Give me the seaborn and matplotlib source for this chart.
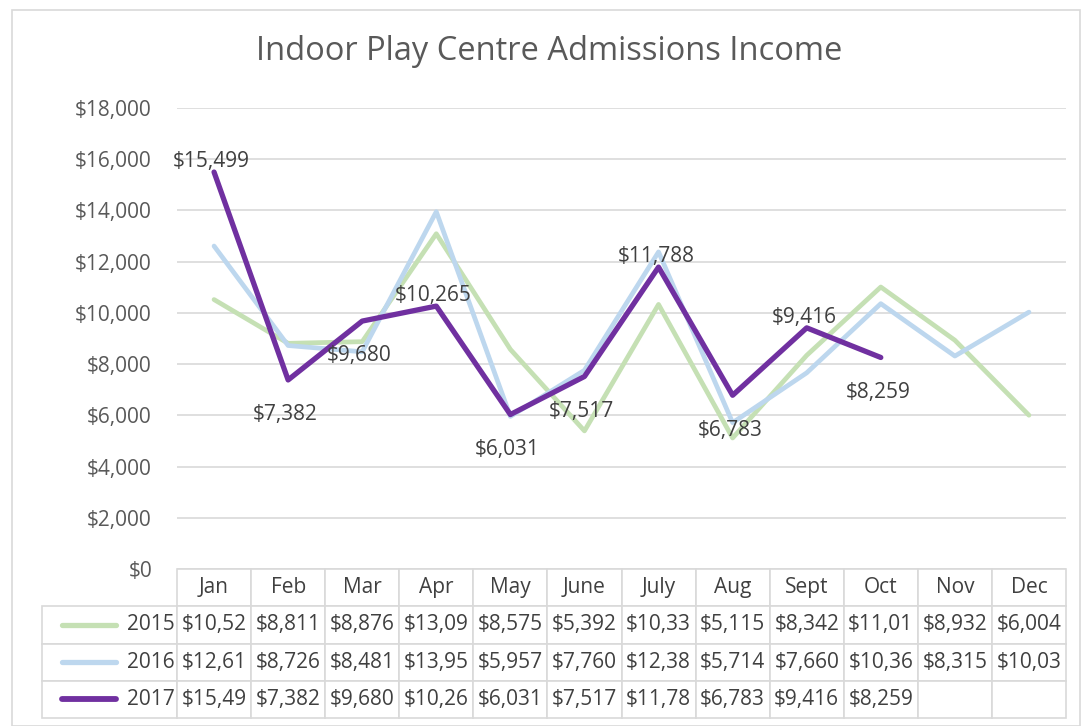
import matplotlib.pyplot as plt
import matplotlib.patches as mpatches
from matplotlib.lines import Line2D
import matplotlib.ticker as mtick
import pandas as pd
import seaborn as sns

months = ['Jan', 'Feb', 'Mar', 'Apr', 'May', 'June', 'July', 'Aug', 'Sept', 'Oct', 'Nov', 'Dec']
years = ['2015', '2016', '2017']
income_2015 = [10520, 8811, 8876, 13090, 8575, 5392, 10330, 5115, 8342, 11010, 8932, 6004]
income_2016 = [12610, 8726, 8481, 13950, 5957, 7760, 12380, 5714, 7660, 10360, 8315, 10030]
income_2017 = [15499, 7382, 9680, 10265, 6031, 7517, 11788, 6783, 9416, 8259]
label_pos_2017 = ['above', 'below', 'below', 'above', 'below', 'below', 'above', 'below', 'above', 'below']

colors = {'2015': '#c5e0b4', '2016': '#bdd7ee', '2017': '#7030a0'}
widths = {'2015': 3.4, '2016': 3.4, '2017': 3.8}

sns.set_theme(style='white')
plt.rcParams['font.family'] = ['Open Sans', 'DejaVu Sans']

rows = []
for yr, vals in zip(years, [income_2015, income_2016, income_2017]):
    for i, v in enumerate(vals):
        rows.append({'Year': yr, 'm': i, 'Income': v})
df = pd.DataFrame(rows)

W, H = 1084, 726
fig = plt.figure(figsize=(W / 100, H / 100), dpi=100)
fig.patches.append(mpatches.Rectangle((12 / W, 0), (1080 - 12) / W, 1 - 10 / H,
                                      transform=fig.transFigure, fill=False,
                                      edgecolor='#d9d9d9', lw=1.2))
fig.text(549 / W, 1 - 52 / H, 'Indoor Play Centre Admissions Income', fontsize=23.5,
         color='#595959', ha='center', va='center')

ax = fig.add_axes([177 / W, 1 - 569 / H, (1066 - 177) / W, (569 - 108) / H])
for yr in years:
    sns.lineplot(data=df[df['Year'] == yr], x='m', y='Income', color=colors[yr],
                 lw=widths[yr], ax=ax, legend=False, zorder=3 if yr == '2017' else 2)

for i, (v, pos) in enumerate(zip(income_2017, label_pos_2017)):
    off = 7.5 if pos == 'above' else -25
    ax.annotate(f'${v:,}', (i, v), xytext=(-2, off), textcoords='offset points',
                ha='center', va='center', fontsize=15, color='#404040', zorder=4)

ax.set_xlim(-0.5, 11.5)
ax.set_ylim(0, 18000)
ax.set_yticks(range(0, 18001, 2000))
ax.yaxis.set_major_formatter(mtick.FuncFormatter(lambda v, p: f'${v:,.0f}'))
ax.tick_params(axis='y', length=0, pad=18, labelsize=15, labelcolor='#595959')
ax.set_xticks([])
ax.set_xlabel('')
ax.set_ylabel('')
ax.grid(axis='y', color='#d9d9d9', lw=1.2)
for s in ax.spines.values():
    s.set_visible(False)

cell_text = []
for vals in [income_2015, income_2016, income_2017]:
    txt = [f'${v:,}'[:6] for v in vals]
    cell_text.append(txt + [''] * (12 - len(txt)))

axh = 569 - 108
tbl_h = (718 - 569) / axh
tbl = ax.table(cellText=cell_text, colLabels=months, cellLoc='center',
               bbox=[0, -tbl_h, 1, tbl_h])
cell_h = tbl[0, 0].get_height()
for k, yr in enumerate(years):
    tbl.add_cell(k + 1, -1, width=(177 - 42) / (1066 - 177), height=cell_h,
                 text=yr, loc='right')
tbl.auto_set_font_size(False)
tbl.set_fontsize(15)
for (r, c), cell in tbl.get_celld().items():
    cell.set_edgecolor('#d9d9d9')
    cell.set_linewidth(1.2)
    cell.get_text().set_color('#404040')
    cell.PAD = 0.02

row_h = tbl_h / 4
for k, yr in enumerate(years):
    yc = -row_h * (k + 1.5)
    ax.add_line(Line2D([(62 - 177) / 889, (116 - 177) / 889], [yc, yc], transform=ax.transAxes,
                       color=colors[yr], lw=widths[yr] + 0.4, solid_capstyle='round',
                       clip_on=False))

fig.savefig('out.png', dpi=100)
